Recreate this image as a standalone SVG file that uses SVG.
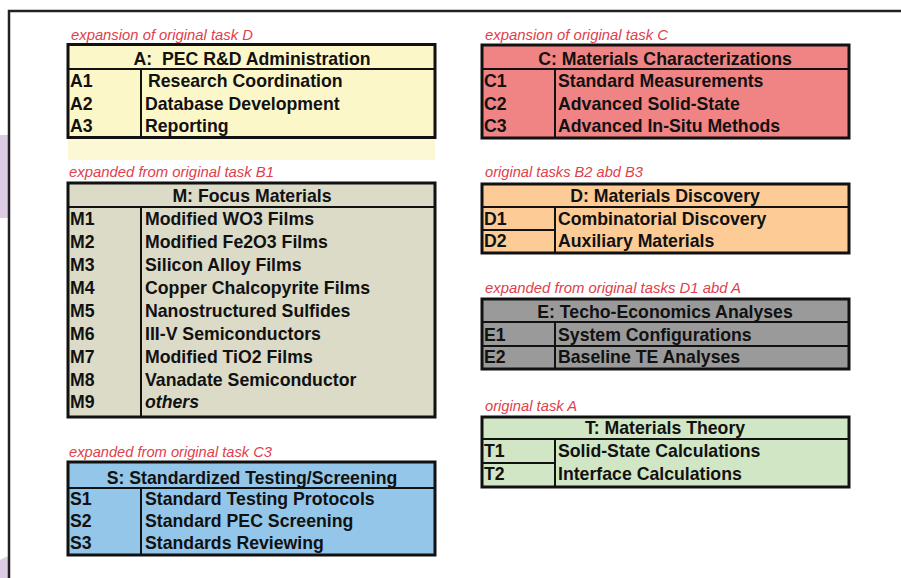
<svg xmlns="http://www.w3.org/2000/svg" width="901" height="578" viewBox="0 0 901 578">
<style>
.lbl{font-family:"Liberation Sans",Arial,sans-serif;font-style:italic;font-size:14px;fill:#E0404C}
.t{font-family:"Liberation Sans",Arial,sans-serif;font-weight:bold;font-size:17.7px;fill:#111}
.h{text-anchor:middle;white-space:pre}
.box{stroke:#111;stroke-width:3}
.ln{stroke:#111;stroke-width:2;fill:none}
</style>
<rect width="901" height="578" fill="#fff"/>
<!-- side decoration -->
<rect x="0" y="135" width="9" height="83" fill="#DCCCE4"/>
<path d="M0 560 Q5 557 9 556 L9 578 L0 578 Z" fill="#DCCCE4"/>
<!-- frame -->
<path d="M9 578 V11 H901" fill="none" stroke="#222" stroke-width="2.5"/>

<g id="A">
<text class="lbl" x="71" y="40" textLength="182" lengthAdjust="spacingAndGlyphs">expansion of original task D</text>
<rect x="68" y="139" width="367" height="21" fill="#FCF7D4"/>
<rect class="box" x="68" y="44.5" width="367" height="93" fill="#FCF7C9"/>
<path class="ln" d="M68 69 H435 M141 69 V137"/>
<text class="t h" x="252" y="65">A:  PEC R&amp;D Administration</text>
<text class="t" x="70" y="87">A1</text><text class="t" x="148" y="87">Research Coordination</text>
<text class="t" x="70" y="110">A2</text><text class="t" x="145" y="110">Database Development</text>
<text class="t" x="70" y="132">A3</text><text class="t" x="145" y="132">Reporting</text>
</g>

<g id="M">
<text class="lbl" x="69" y="177" textLength="205" lengthAdjust="spacingAndGlyphs">expanded from original task B1</text>
<rect class="box" x="68" y="183" width="367" height="234" fill="#DBDBC8"/>
<path class="ln" d="M68 207 H435 M141 207 V417"/>
<text class="t h" x="252" y="202">M: Focus Materials</text>
<text class="t" x="70" y="225">M1</text><text class="t" x="145" y="225">Modified WO3 Films</text>
<text class="t" x="70" y="248">M2</text><text class="t" x="145" y="248">Modified Fe2O3 Films</text>
<text class="t" x="70" y="271">M3</text><text class="t" x="145" y="271">Silicon Alloy Films</text>
<text class="t" x="70" y="294">M4</text><text class="t" x="145" y="294">Copper Chalcopyrite Films</text>
<text class="t" x="70" y="317">M5</text><text class="t" x="145" y="317">Nanostructured Sulfides</text>
<text class="t" x="70" y="340">M6</text><text class="t" x="145" y="340">III-V Semiconductors</text>
<text class="t" x="70" y="363">M7</text><text class="t" x="145" y="363">Modified TiO2 Films</text>
<text class="t" x="70" y="386">M8</text><text class="t" x="145" y="386">Vanadate Semiconductor</text>
<text class="t" x="70" y="408">M9</text><text class="t" x="145" y="408" font-weight="normal" font-style="italic">others</text>
</g>

<g id="S">
<text class="lbl" x="69" y="457" textLength="203" lengthAdjust="spacingAndGlyphs">expanded from original task C3</text>
<rect class="box" x="68" y="462" width="367" height="93" fill="#93C6E8"/>
<path class="ln" d="M68 488 H435 M141 488 V555"/>
<text class="t h" x="252" y="484">S: Standardized Testing/Screening</text>
<text class="t" x="70" y="505">S1</text><text class="t" x="145" y="505">Standard Testing Protocols</text>
<text class="t" x="70" y="527">S2</text><text class="t" x="145" y="527">Standard PEC Screening</text>
<text class="t" x="70" y="549">S3</text><text class="t" x="145" y="549">Standards Reviewing</text>
</g>

<g id="C">
<text class="lbl" x="485" y="40" textLength="183" lengthAdjust="spacingAndGlyphs">expansion of original task C</text>
<rect class="box" x="482" y="45" width="367" height="93" fill="#F08484"/>
<path class="ln" d="M482 69 H849 M555 69 V138"/>
<text class="t h" x="665" y="65">C: Materials Characterizations</text>
<text class="t" x="484" y="87">C1</text><text class="t" x="558" y="87">Standard Measurements</text>
<text class="t" x="484" y="110">C2</text><text class="t" x="558" y="110">Advanced Solid-State</text>
<text class="t" x="484" y="132">C3</text><text class="t" x="558" y="132">Advanced In-Situ Methods</text>
</g>

<g id="D">
<text class="lbl" x="485" y="177" textLength="158" lengthAdjust="spacingAndGlyphs">original tasks B2 abd B3</text>
<rect class="box" x="482" y="184" width="367" height="69" fill="#FCCB96"/>
<path class="ln" d="M482 207 H849 M555 207 V253 M482 230 H555"/>
<text class="t h" x="665" y="202">D: Materials Discovery</text>
<text class="t" x="484" y="225">D1</text><text class="t" x="558" y="225">Combinatorial Discovery</text>
<text class="t" x="484" y="247">D2</text><text class="t" x="558" y="247">Auxiliary Materials</text>
</g>

<g id="E">
<text class="lbl" x="485" y="293" textLength="256" lengthAdjust="spacingAndGlyphs">expanded from original tasks D1 abd A</text>
<rect class="box" x="482" y="299" width="367" height="70" fill="#9A9A9A"/>
<path class="ln" d="M482 322 H849 M555 322 V369 M482 346 H849"/>
<text class="t h" x="665" y="318">E: Techo-Economics Analyses</text>
<text class="t" x="484" y="341">E1</text><text class="t" x="558" y="341">System Configurations</text>
<text class="t" x="484" y="363">E2</text><text class="t" x="558" y="363">Baseline TE Analyses</text>
</g>

<g id="T">
<text class="lbl" x="485" y="411" textLength="92" lengthAdjust="spacingAndGlyphs">original task A</text>
<rect class="box" x="482" y="417" width="367" height="70" fill="#D1E6C4"/>
<path class="ln" d="M482 439 H849 M555 439 V487 M482 463 H555"/>
<text class="t h" x="665" y="434">T: Materials Theory</text>
<text class="t" x="484" y="457">T1</text><text class="t" x="558" y="457">Solid-State Calculations</text>
<text class="t" x="484" y="480">T2</text><text class="t" x="558" y="480">Interface Calculations</text>
</g>

<g id="connectors"></g>
</svg>
